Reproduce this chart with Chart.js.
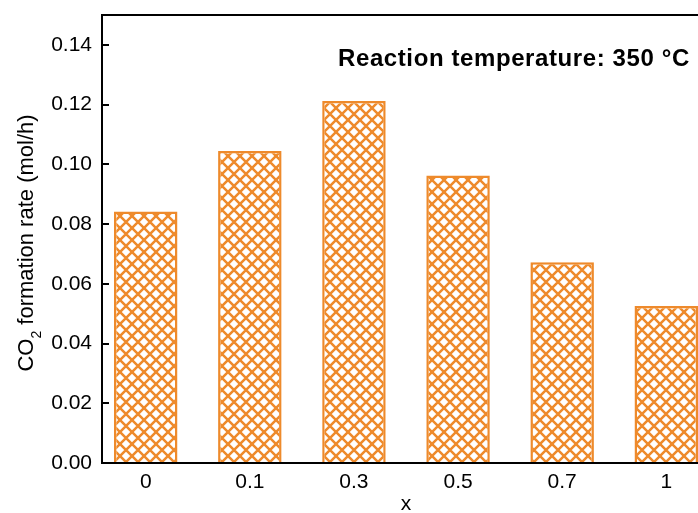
<!DOCTYPE html>
<html>
<head>
<meta charset="utf-8">
<script src="https://cdn.jsdelivr.net/npm/chart.js@4.4.0/dist/chart.umd.min.js"></script>
<style>
  html, body { margin: 0; padding: 0; background: #fff; overflow: hidden; }
  canvas { display: block; }
</style>
</head>
<body>
<canvas id="rateChart" width="712" height="513"></canvas>
<script>
var X_LABELS = ['0', '0.1', '0.3', '0.5', '0.7', '1'];
var CO2_RATE = [0.0842, 0.1045, 0.1212, 0.0963, 0.0672, 0.0526];
var Y_TICKS = [0, 0.02, 0.04, 0.06, 0.08, 0.10, 0.12, 0.14];

var ORANGE = '#EE8A2B';
var FONT = "'Liberation Sans', Arial, sans-serif";

var canvas = document.getElementById('rateChart');
var ctx = canvas.getContext('2d');

// diagonal cross-hatch used to fill the bars
function makeHatch(color) {
  var s = 12;
  var tile = document.createElement('canvas');
  tile.width = s;
  tile.height = s;
  var g = tile.getContext('2d');
  g.fillStyle = '#fff';
  g.fillRect(0, 0, s, s);
  g.strokeStyle = color;
  g.lineWidth = 2.5;
  for (var k = -1; k <= 1; k++) {
    g.beginPath();
    g.moveTo(k * s, 0);
    g.lineTo(k * s + s, s);
    g.moveTo(k * s, s);
    g.lineTo(k * s + s, 0);
    g.stroke();
  }
  return ctx.createPattern(tile, 'repeat');
}

// box around the plot, inward y ticks, annotation and y title
var frame = {
  id: 'frame',
  afterDatasetsDraw: function (chart) {
    var a = chart.chartArea;
    var c = chart.ctx;
    var y = chart.scales.y;
    c.save();
    c.strokeStyle = '#000';
    c.lineWidth = 2;
    c.strokeRect(a.left, a.top, a.right - a.left, a.bottom - a.top);
    y.ticks.forEach(function (t) {
      var py = Math.round(y.getPixelForValue(t.value));
      c.beginPath();
      c.moveTo(a.left, py);
      c.lineTo(a.left + 7, py);
      c.stroke();
    });

    c.fillStyle = '#000';
    c.font = 'bold 24px ' + FONT;
    c.letterSpacing = '0.6px';
    c.textBaseline = 'alphabetic';
    c.textAlign = 'left';
    c.fillText('Reaction temperature: 350 °C', 338, 66);
    c.letterSpacing = '0px';

    // CO2 with a subscript 2, rotated along the axis
    var big = '22px ' + FONT;
    var small = '14px ' + FONT;
    var p1 = 'CO', p2 = '2', p3 = ' formation rate (mol/h)';
    c.font = big;
    var w1 = c.measureText(p1).width;
    var w3 = c.measureText(p3).width;
    c.font = small;
    var w2 = c.measureText(p2).width;
    var total = w1 + w2 + w3;
    c.translate(33, (a.top + a.bottom) / 2 + 4);
    c.rotate(-Math.PI / 2);
    var x0 = -total / 2;
    c.font = big;
    c.fillText(p1, x0, 0);
    c.font = small;
    c.fillText(p2, x0 + w1, 8);
    c.font = big;
    c.fillText(p3, x0 + w1 + w2, 0);
    c.restore();
  }
};

new Chart(ctx, {
  type: 'bar',
  data: {
    datasets: [{
      data: CO2_RATE.map(function (v, i) { return { x: i, y: v }; }),
      backgroundColor: makeHatch(ORANGE),
      borderColor: ORANGE,
      borderWidth: 2.5,
      categoryPercentage: 1,
      barPercentage: 0.61
    }]
  },
  options: {
    responsive: false,
    animation: false,
    layout: { padding: { top: 15, right: 2, left: 0, bottom: 0 } },
    plugins: {
      legend: { display: false },
      tooltip: { enabled: false }
    },
    scales: {
      x: {
        type: 'linear',
        offset: false,
        min: -0.42,
        max: 5.42,
        grid: { display: false, drawTicks: false },
        border: { display: false },
        afterBuildTicks: function (s) {
          s.ticks = X_LABELS.map(function (_, i) { return { value: i }; });
        },
        ticks: {
          padding: 7,
          color: '#000',
          font: { family: FONT, size: 21 },
          callback: function (v) { return X_LABELS[v]; }
        },
        title: {
          display: true,
          text: 'x',
          color: '#000',
          font: { family: FONT, size: 21, lineHeight: 1 },
          padding: { top: 0, bottom: -2 }
        },
        afterFit: function (s) {
          s.height = 50;
          s.paddingLeft = 0;
          s.paddingRight = 0;
        }
      },
      y: {
        min: 0,
        max: 0.15,
        grid: { display: false, drawTicks: false },
        border: { display: false },
        afterBuildTicks: function (s) {
          s.ticks = Y_TICKS.map(function (v) { return { value: v }; });
        },
        ticks: {
          padding: 10,
          color: '#000',
          font: { family: FONT, size: 21 },
          callback: function (v) { return v.toFixed(2); }
        },
        afterFit: function (s) {
          s.width = 102;
          s.paddingTop = 0;
          s.paddingBottom = 0;
        }
      }
    }
  },
  plugins: [frame]
});
</script>
</body>
</html>
